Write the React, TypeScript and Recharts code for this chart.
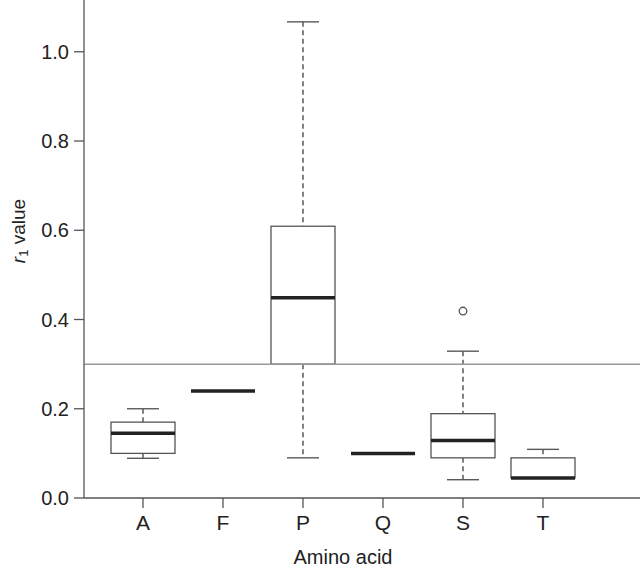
import React from 'react';
import { ComposedChart, Bar, XAxis, YAxis, ReferenceLine } from 'recharts';

const categories = ['A', 'F', 'P', 'Q', 'S', 'T'];
const lows = [0.089, 0.24, 0.09, 0.1, 0.041, 0.045];
const q1s = [0.1, 0.24, 0.3, 0.1, 0.09, 0.045];
const medians = [0.145, 0.24, 0.449, 0.1, 0.129, 0.045];
const q3s = [0.17, 0.24, 0.609, 0.1, 0.189, 0.09];
const highs = [0.2, 0.24, 1.067, 0.1, 0.329, 0.109];
const outliers: number[][] = [[], [], [], [], [0.419], []];
const yTicks = [0, 0.2, 0.4, 0.6, 0.8, 1.0];
const threshold = 0.3;

const data = categories.map((c, i) => ({
  name: c,
  range: [lows[i], highs[i]],
  low: lows[i],
  q1: q1s[i],
  median: medians[i],
  q3: q3s[i],
  high: highs[i],
  outliers: outliers[i],
}));

const FONT = '"Liberation Sans", Arial, Helvetica, sans-serif';

const BoxShape = (props: any) => {
  const { x, y, width, height, payload } = props;
  const d = payload;
  const top = Math.min(y, y + height);
  const h = Math.abs(height);
  const span = d.high - d.low;
  const toY = (v: number) => (span === 0 ? top : top + ((d.high - v) / span) * h);
  const cx = x + width / 2;
  const capHalf = width / 4;
  const boxStroke = '#555';
  const whiskStroke = '#5a5a5a';
  const yq1 = toY(d.q1);
  const yq3 = toY(d.q3);
  const ylo = toY(d.low);
  const yhi = toY(d.high);
  const ymed = toY(d.median);
  const hasBox = d.q3 !== d.q1;
  return (
    <g>
      {d.high !== d.q3 && (
        <g>
          <line x1={cx} x2={cx} y1={yhi} y2={yq3} stroke={whiskStroke} strokeWidth={1.5} strokeDasharray="5 3.5" />
          <line x1={cx - capHalf} x2={cx + capHalf} y1={yhi} y2={yhi} stroke={whiskStroke} strokeWidth={1.4} />
        </g>
      )}
      {d.low !== d.q1 && (
        <g>
          <line x1={cx} x2={cx} y1={yq1} y2={ylo} stroke={whiskStroke} strokeWidth={1.5} strokeDasharray="5 3.5" />
          <line x1={cx - capHalf} x2={cx + capHalf} y1={ylo} y2={ylo} stroke={whiskStroke} strokeWidth={1.4} />
        </g>
      )}
      {hasBox && (
        <rect x={x} y={yq3} width={width} height={yq1 - yq3} fill="#fff" stroke={boxStroke} strokeWidth={1.3} />
      )}
      <line x1={x} x2={x + width} y1={ymed} y2={ymed} stroke="#222" strokeWidth={3.5} />
      {span !== 0 &&
        d.outliers.map((o: number, k: number) => (
          <circle key={k} cx={cx} cy={toY(o)} r={3.8} fill="#fff" stroke="#555" strokeWidth={1.3} />
        ))}
    </g>
  );
};

const YLabel = () => {
  const cx = 18;
  const cy = 231;
  return (
    <text
      x={cx}
      y={cy}
      transform={`rotate(-90, ${cx}, ${cy})`}
      textAnchor="middle"
      dominantBaseline="central"
      fontFamily={FONT}
      fontSize={19}
      fill="#222"
    >
      <tspan fontStyle="italic">r</tspan>
      <tspan fontSize={13} dy={5}>1</tspan>
      <tspan dy={-5}> value</tspan>
    </text>
  );
};

const XLabel = (props: any) => {
  const { viewBox } = props;
  const cx = viewBox.x + 259;
  return (
    <text x={cx} y={557} textAnchor="middle" dominantBaseline="central" fontFamily={FONT} fontSize={20} fill="#222">
      Amino acid
    </text>
  );
};

export default function App() {
  return (
    <div style={{ position: 'absolute', left: 0, top: 0, width: 640, height: 569, background: '#fff' }}>
      <ComposedChart width={640} height={569} data={data} margin={{ top: 0, right: 0, bottom: 0, left: 0 }}>
        <XAxis
          dataKey="name"
          height={71}
          padding={{ left: 19, right: 57 }}
          tickSize={10}
          tickMargin={7}
          stroke="#555"
          strokeWidth={1.3}
          tick={{ fontFamily: FONT, fontSize: 21, fill: '#222' }}
          tickLine={{ stroke: '#555', strokeWidth: 1.3 }}
          label={<XLabel />}
        />
        <YAxis
          type="number"
          domain={[0, 1.116]}
          ticks={yTicks}
          width={84}
          tickSize={10}
          tickMargin={5}
          stroke="#555"
          strokeWidth={1.3}
          tickFormatter={(v: number) => v.toFixed(1)}
          tick={{ fontFamily: FONT, fontSize: 20, fill: '#222' }}
          tickLine={{ stroke: '#555', strokeWidth: 1.3 }}
          allowDataOverflow
          label={<YLabel />}
        />
        <Bar dataKey="range" barSize={64} shape={<BoxShape />} isAnimationActive={false} />
        <ReferenceLine y={threshold} stroke="#999" strokeWidth={1.5} ifOverflow="extendDomain" />
      </ComposedChart>
    </div>
  );
}
